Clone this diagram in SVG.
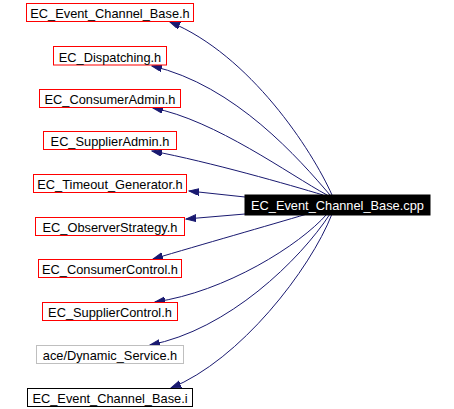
<svg xmlns="http://www.w3.org/2000/svg" width="454" height="409" viewBox="0 0 454 409">
<style>
.n rect{fill:#fff;stroke:#ff0000;stroke-width:1}
.n text{font-family:"Liberation Sans",Arial,sans-serif;font-size:12.8px;text-anchor:middle;fill:#000}
.e path{fill:none;stroke:#191970;stroke-width:1;marker-end:url(#ah)}
</style>
<defs>
<marker id="ah" markerUnits="userSpaceOnUse" markerWidth="11" markerHeight="8" refX="10" refY="3.5" orient="auto" viewBox="0 0 11 8">
<path d="M0,0 L10,3.5 L0,7 z" fill="#191970" stroke="#191970"/>
</marker>
</defs>
<rect width="454" height="409" fill="#fff"/>
<g id="edges" class="e">
<path d="M332,195 C312,150 250,55 170,22"/>
<path d="M330,195 C300,160 235,85 152,66"/>
<path d="M327,195 C290,175 215,120 153,108"/>
<path d="M323,195 C290,185 210,162 152,151"/>
<path d="M245,197 L189,191"/>
<path d="M245,214 L186,219"/>
<path d="M307,214 C270,225 200,245 153,259"/>
<path d="M327,214 C300,245 225,292 155,302"/>
<path d="M330,214 C300,260 228,330 150,345"/>
<path d="M332,214 C310,270 240,360 171,388"/>
</g>
<g id="n1" class="n"><rect x="26.5" y="3.5" width="167" height="18"/><text x="110" y="18.3">EC_Event_Channel_Base.h</text></g>
<g id="n2" class="n"><rect x="53.5" y="46.5" width="113" height="18.5"/><text x="110" y="61.5">EC_Dispatching.h</text></g>
<g id="n3" class="n"><rect x="39.5" y="89.5" width="141" height="18"/><text x="110" y="104.3">EC_ConsumerAdmin.h</text></g>
<g id="n4" class="n"><rect x="43.5" y="131.5" width="133" height="18"/><text x="110" y="146.3">EC_SupplierAdmin.h</text></g>
<g id="n5" class="n"><rect x="33.5" y="174.5" width="153" height="18"/><text x="110" y="189.3">EC_Timeout_Generator.h</text></g>
<g id="n6" class="n"><rect x="35.5" y="217.5" width="149" height="18"/><text x="110" y="232.3">EC_ObserverStrategy.h</text></g>
<g id="n7" class="n"><rect x="38.5" y="259.5" width="143" height="18"/><text x="110" y="274.3">EC_ConsumerControl.h</text></g>
<g id="n8" class="n"><rect x="42.5" y="302.5" width="135" height="18"/><text x="110" y="317.3">EC_SupplierControl.h</text></g>
<g id="n9" class="n"><rect x="36.5" y="345.5" width="147" height="18" style="stroke:#bfbfbf"/><text x="110" y="360.3">ace/Dynamic_Service.h</text></g>
<g id="n10" class="n"><rect x="27.5" y="388.5" width="165" height="18" style="stroke:#000"/><text x="110" y="403.3">EC_Event_Channel_Base.i</text></g>
<g id="main" class="n"><rect x="245" y="195" width="185" height="20" style="fill:#000;stroke:#000"/><text x="337.5" y="210" style="fill:#fff">EC_Event_Channel_Base.cpp</text></g>
</svg>
